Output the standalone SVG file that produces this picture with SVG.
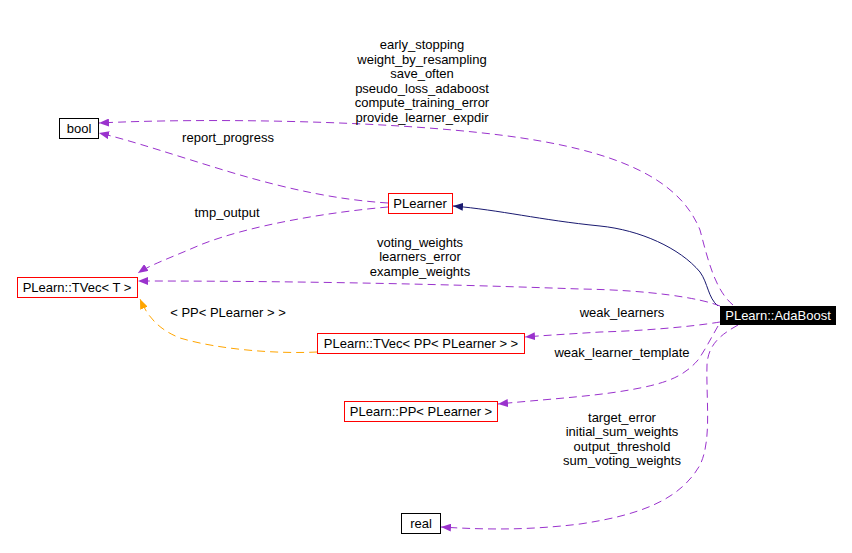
<svg xmlns="http://www.w3.org/2000/svg" width="852" height="553" viewBox="0 0 852 553">
<defs>
<style>
text{font-family:"Liberation Sans",Arial,sans-serif;font-size:13px;fill:#000;text-anchor:middle}
.box{fill:#fff;stroke:#000;stroke-width:1}
.red{fill:#fff;stroke:#ff0000;stroke-width:1}
.e{fill:none;stroke:#9a32cd;stroke-width:1;stroke-dasharray:8,5}
.nav{fill:none;stroke:#191970;stroke-width:1}
.org{fill:none;stroke:#ffa500;stroke-width:1;stroke-dasharray:8,5}
</style>
<marker id="ap" viewBox="0 0 10 8" refX="10" refY="4" markerWidth="10" markerHeight="8" markerUnits="userSpaceOnUse" orient="auto"><path d="M0,0L10,4L0,8z" fill="#9a32cd"/></marker>
<marker id="an" viewBox="0 0 10 8" refX="10" refY="4" markerWidth="10" markerHeight="8" markerUnits="userSpaceOnUse" orient="auto"><path d="M0,0L10,4L0,8z" fill="#191970"/></marker>
<marker id="ao" viewBox="0 0 10 8" refX="10" refY="4" markerWidth="10" markerHeight="8" markerUnits="userSpaceOnUse" orient="auto"><path d="M0,0L10,4L0,8z" fill="#ffa500"/></marker>
</defs>
<rect width="852" height="553" fill="#fff"/>
<g id="edges">
<path class="nav" d="M718,306 C708,298 708,283 700,272 C680,248 640,230 600,226 C540,220 500,210 453,206" marker-end="url(#an)"/>
<path class="e" d="M733,305 C715,290 708,260 700,230 C680,180 620,150 500,135 C380,120 200,118 99,123" marker-end="url(#ap)"/>
<path class="e" d="M388,203 C340,200 290,190 230,172 C180,157 130,140 99,133" marker-end="url(#ap)"/>
<path class="e" d="M388,207 C330,212 250,225 200,245 C170,258 150,265 138,273" marker-end="url(#ap)"/>
<path class="e" d="M720,306 C700,298 650,290 580,289 C440,284 300,281 138,281" marker-end="url(#ap)"/>
<path class="org" d="M317,352 C280,354 220,350 180,338 C160,330 148,318 140,299" marker-end="url(#ao)"/>
<path class="e" d="M720,322 C690,327 640,331 600,332 C570,334 550,335 525,337" marker-end="url(#ap)"/>
<path class="e" d="M718,326 C710,340 705,350 698,360 C685,375 670,382 640,388 C600,396 560,398 498,404" marker-end="url(#ap)"/>
<path class="e" d="M738,325 C720,335 708,345 707,365 C706,400 712,440 700,465 C680,500 640,515 580,524 C530,530 490,530 441,527" marker-end="url(#ap)"/>
</g>
<g id="bool"><rect class="box" x="59.5" y="118.5" width="39" height="20"/><text x="79" y="133">bool</text></g>
<g id="PLearner"><rect class="red" x="388.5" y="193.5" width="64" height="20"/><text x="420" y="208">PLearner</text></g>
<g id="TVecT"><rect class="red" x="17.5" y="277.5" width="120" height="20"/><text x="77" y="292">PLearn::TVec&lt; T &gt;</text></g>
<g id="TVecPP"><rect class="red" x="317.5" y="333.5" width="207" height="20"/><text x="421" y="348">PLearn::TVec&lt; PP&lt; PLearner &gt; &gt;</text></g>
<g id="PP"><rect class="red" x="344.5" y="401.5" width="153" height="20"/><text x="421" y="416">PLearn::PP&lt; PLearner &gt;</text></g>
<g id="real"><rect class="box" x="401.5" y="513.5" width="39" height="20"/><text x="421" y="528">real</text></g>
<g id="AdaBoost"><rect x="720" y="306" width="116" height="19" fill="#000"/><text x="778" y="320" style="fill:#fff">PLearn::AdaBoost</text></g>
<g id="labels">
<text x="422" y="49">early_stopping</text>
<text x="422" y="64">weight_by_resampling</text>
<text x="422" y="78">save_often</text>
<text x="422" y="93">pseudo_loss_adaboost</text>
<text x="422" y="107">compute_training_error</text>
<text x="422" y="122">provide_learner_expdir</text>
<text x="228" y="142">report_progress</text>
<text x="227" y="217">tmp_output</text>
<text x="420" y="247">voting_weights</text>
<text x="420" y="261">learners_error</text>
<text x="420" y="276">example_weights</text>
<text x="228" y="317">&lt; PP&lt; PLearner &gt; &gt;</text>
<text x="622" y="317">weak_learners</text>
<text x="622" y="357">weak_learner_template</text>
<text x="622" y="422">target_error</text>
<text x="622" y="436">initial_sum_weights</text>
<text x="622" y="451">output_threshold</text>
<text x="622" y="465">sum_voting_weights</text>
</g>
</svg>
